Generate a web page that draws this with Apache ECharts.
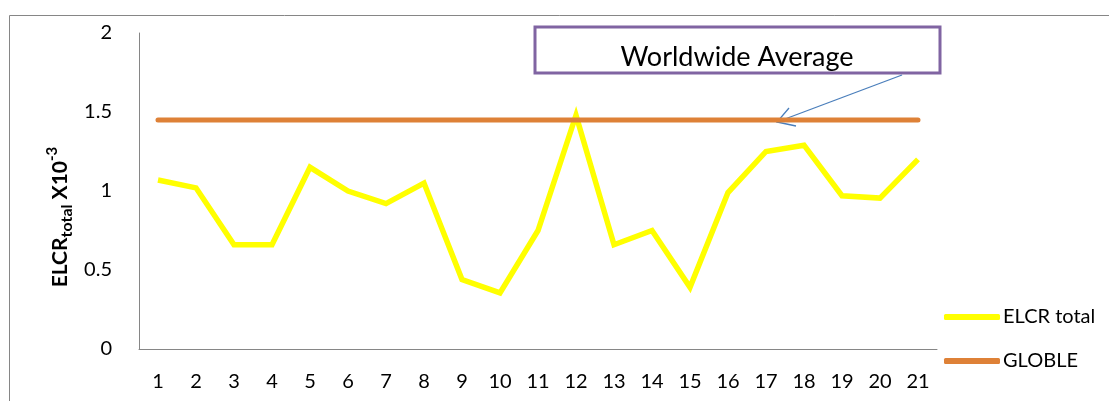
<!DOCTYPE html>
<html>
<head>
<meta charset="utf-8">
<script src="https://cdn.jsdelivr.net/npm/echarts@6/dist/echarts.min.js"></script>
<style>
  html, body { margin: 0; padding: 0; background: #fff; }
  #chart { width: 1109px; height: 401px; }
</style>
</head>
<body>
<div id="chart"></div>
<script>
// Sample numbers along the x axis
const categories = ['1','2','3','4','5','6','7','8','9','10','11','12','13','14','15','16','17','18','19','20','21'];
// Excess lifetime cancer risk (x10^-3) per sample
const elcrTotal = [1.07, 1.02, 0.66, 0.66, 1.15, 1.00, 0.92, 1.05, 0.44, 0.355, 0.75, 1.48, 0.66, 0.75, 0.39, 0.99, 1.25, 1.29, 0.97, 0.955, 1.20];
// Worldwide average reference level
const globle = [1.45, 1.45, 1.45, 1.45, 1.45, 1.45, 1.45, 1.45, 1.45, 1.45, 1.45, 1.45, 1.45, 1.45, 1.45, 1.45, 1.45, 1.45, 1.45, 1.45, 1.45];
const yTicks = { min: 0, max: 2, interval: 0.5 };

const FONT = 'Lato, "Open Sans", sans-serif';
const chart = echarts.init(document.getElementById('chart'), null, { renderer: 'canvas' });

chart.setOption({
  animation: false,
  backgroundColor: '#ffffff',
  grid: { left: 139, right: 172, top: 33, bottom: 52, containLabel: false },
  legend: {
    orient: 'vertical',
    left: 939,
    top: 302,
    itemWidth: 56,
    itemHeight: 6,
    itemGap: 24,
    icon: 'roundRect',
    textStyle: { fontFamily: FONT, fontSize: 20, color: '#000', padding: [0, 0, 0, -2] },
    data: ['ELCR total', 'GLOBLE']
  },
  xAxis: {
    type: 'category',
    data: categories,
    boundaryGap: true,
    axisLine: { show: true, lineStyle: { color: '#868686', width: 1 } },
    axisTick: { show: false },
    axisLabel: { fontFamily: FONT, fontSize: 20, color: '#000', margin: 23, interval: 0 }
  },
  yAxis: {
    type: 'value',
    min: yTicks.min,
    max: yTicks.max,
    interval: yTicks.interval,
    axisLine: { show: true, lineStyle: { color: '#868686', width: 1 } },
    axisTick: { show: false },
    splitLine: { show: false },
    axisLabel: { fontFamily: FONT, fontSize: 20, color: '#000', margin: 27 }
  },
  series: [
    {
      name: 'ELCR total',
      type: 'line',
      data: elcrTotal,
      symbol: 'none',
      color: '#FFFF00',
      lineStyle: { color: '#FFFF00', width: 5.5, join: 'miter' }
    },
    {
      name: 'GLOBLE',
      type: 'line',
      data: globle,
      symbol: 'none',
      color: '#DE8137',
      lineStyle: { color: '#DE8137', width: 5, cap: 'round' }
    }
  ],
  graphic: [
    // outer chart frame
    {
      type: 'rect', silent: true,
      shape: { x: 9.5, y: 15.5, width: 1200, height: 500 },
      style: { fill: 'none', stroke: '#868686', lineWidth: 1 }
    },
    // y-axis title with subscript and superscript
    {
      type: 'text', silent: true,
      x: 60, y: 217, rotation: Math.PI / 2,
      style: {
        text: '{b|ELCR}{sub|total}{b| X10}{sup|-3}',
        align: 'center', verticalAlign: 'middle',
        rich: {
          b: { fontFamily: FONT, fontSize: 21, fontWeight: 'bold', color: '#000', lineHeight: 30, verticalAlign: 'middle' },
          sub: { fontFamily: FONT, fontSize: 16, fontWeight: 'bold', color: '#000', lineHeight: 30, verticalAlign: 'bottom' },
          sup: { fontFamily: FONT, fontSize: 15, fontWeight: 'bold', color: '#000', lineHeight: 30, verticalAlign: 'top' }
        }
      }
    },
    // annotation box
    {
      type: 'rect', silent: true,
      shape: { x: 535, y: 27, width: 405, height: 46 },
      style: { fill: '#ffffff', stroke: '#8064A2', lineWidth: 3 }
    },
    {
      type: 'text', silent: true,
      x: 737, y: 57,
      style: { text: 'Worldwide Average', fontFamily: FONT, fontSize: 27, fill: '#000', align: 'center', verticalAlign: 'middle' }
    },
    // arrow to the average line
    {
      type: 'line', silent: true,
      shape: { x1: 902, y1: 75, x2: 777, y2: 122 },
      style: { stroke: '#4A7EBB', lineWidth: 1.3 }
    },
    {
      type: 'polyline', silent: true,
      shape: { points: [[789, 108], [777, 122], [796, 126]] },
      style: { stroke: '#4A7EBB', lineWidth: 1.3, fill: 'none' }
    }
  ]
});
</script>
</body>
</html>
